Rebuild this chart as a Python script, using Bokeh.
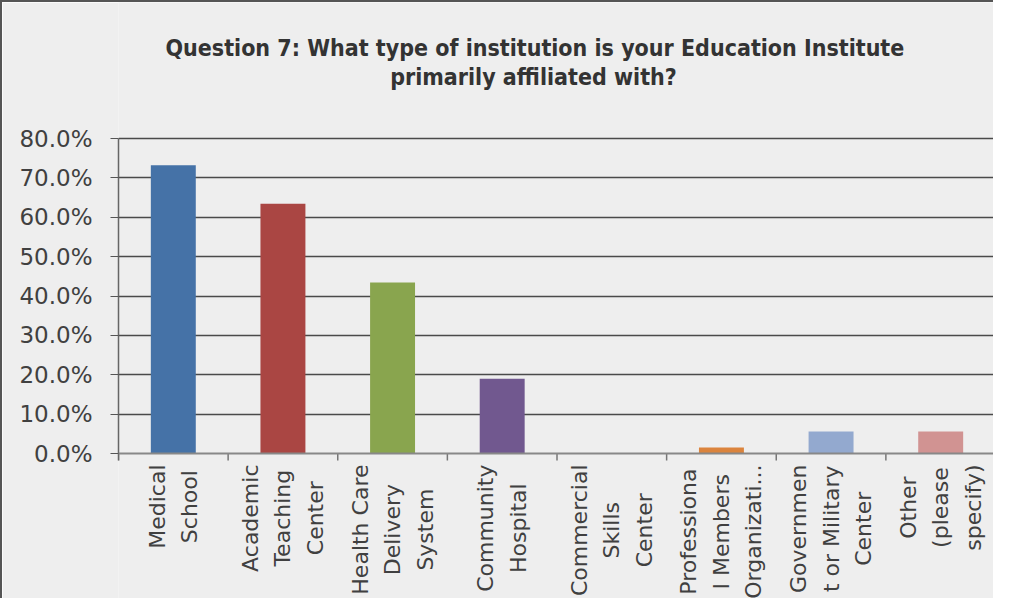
import math
from bokeh.plotting import figure
from bokeh.models import ColumnDataSource, FixedTicker, PrintfTickFormatter, Range1d, Label, Span
from bokeh.embed import file_html
from bokeh.resources import INLINE

# ---- data ----
categories = [
    "Medical\nSchool",
    "Academic\nTeaching\nCenter",
    "Health Care\nDelivery\nSystem",
    "Community\nHospital",
    "Commercial\nSkills\nCenter",
    "Professiona\nl Members\nOrganizati...",
    "Governmen\nt or Military\nCenter",
    "Other\n(please\nspecify)",
]
values = [73.2, 63.4, 43.4, 19.0, 0.0, 1.5, 5.6, 5.6]
colors = ["#4572A7", "#AA4643", "#89A54E", "#71588F", "#4198AF", "#DB843D", "#93A9CF", "#D19392"]
y_ticks = [0, 10, 20, 30, 40, 50, 60, 70, 80]
title_lines = ["Question  7: What type of institution is your Education Institute",
               "primarily affiliated with?"]

n = len(categories)
centers = [i + 0.5 for i in range(n)]
bounds = list(range(n + 1))

src = ColumnDataSource(dict(x=centers, top=values, color=colors))
tick_src = ColumnDataSource(dict(x=bounds, y0=[0] * len(bounds)))

# ---- layout constants (pixels) ----
BG = "#EEEEEE"
FONT = "DejaVu Sans"
TFONT = "'DejaVu Sans Condensed', Roboto, sans-serif"
H = 598                 # canvas height
TOP_PX = 136            # gap above the 80% line
BOT_PX = 147            # gap below the 0% line
PLOT_PX = H - TOP_PX - BOT_PX
PPU = PLOT_PX / 80.0    # pixels per percent
TICK_LEN = 7 / PPU

p = figure(
    width=993, height=H,
    x_range=Range1d(0, n),
    y_range=Range1d(-BOT_PX / PPU, 80 + TOP_PX / PPU),
    x_axis_location=None,
    output_backend="svg", toolbar_location=None,
    background_fill_color=BG, border_fill_color=BG,
    min_border_left=116, min_border_right=0,
    min_border_top=0, min_border_bottom=0,
    outline_line_color=None,
)
p.styles = {"border-left": "2px solid #555555", "border-top": "2px solid #555555"}

# title (two centred lines)
for txt, tx, ty in zip(title_lines, [420, 415], [H - 45, H - 74]):
    p.add_layout(Label(x=tx, y=ty, x_units="screen", y_units="screen",
                       text=txt, text_align="center", text_baseline="alphabetic",
                       text_font=TFONT, text_font_style="bold",
                       text_font_size="23px", text_color="#333333"))

# gridlines
p.xgrid.grid_line_color = None
p.ygrid.ticker = FixedTicker(ticks=y_ticks[1:])
p.ygrid.grid_line_color = "#4a4a4a"
p.ygrid.grid_line_width = 1.3

# bars
p.vbar(x="x", top="top", bottom=0, width=0.41, fill_color="color", line_color=None, source=src)

# category axis: baseline, ticks at category boundaries, centred multi-line labels
p.add_layout(Span(location=0, dimension="width", line_color="#888888", line_width=2))
p.segment(x0="x", y0="y0", x1="x", y1=-TICK_LEN, source=tick_src,
          line_color="#777777", line_width=1.5)
for cx, lab in zip(centers, categories):
    p.add_layout(Label(x=cx, y=0, y_offset=-11, text=lab, angle=math.pi / 2,
                       anchor="center_right", text_align="center", text_line_height=1.3,
                       text_font=FONT, text_font_size="22px", text_color="#404040"))

# y axis
p.yaxis.bounds = (-TICK_LEN, 80)
p.yaxis.ticker = FixedTicker(ticks=y_ticks)
p.yaxis.formatter = PrintfTickFormatter(format="%.1f%%")
p.yaxis.major_label_text_font = FONT
p.yaxis.major_label_text_font_size = "23px"
p.yaxis.major_label_text_color = "#404040"
p.yaxis.axis_line_color = "#666666"
p.yaxis.axis_line_width = 1.5
p.yaxis.major_tick_line_color = "#555555"
p.yaxis.major_tick_out = 8
p.yaxis.major_tick_in = 0
p.yaxis.minor_tick_line_color = None
p.yaxis.major_label_standoff = 18

open("out.html", "w").write(file_html(p, INLINE))
